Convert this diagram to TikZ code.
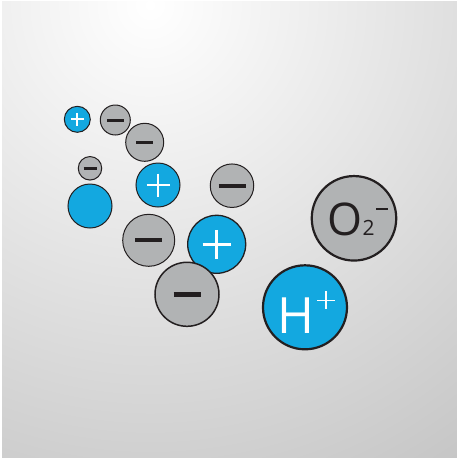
\documentclass[tikz,border=0pt]{standalone}
\usepackage{fontspec}
\setmainfont{Open Sans}
\usetikzlibrary{calc}
\definecolor{ionblue}{HTML}{13A8E0}
\definecolor{iongrey}{HTML}{B1B3B4}
\definecolor{ink}{HTML}{231F20}
\definecolor{bgdark}{HTML}{B4B4B4}
\begin{document}
\begin{tikzpicture}[x=1pt,y=-1pt,
    ion/.style={draw=ink, circle, inner sep=0pt, line width=1pt},
    cation/.style={ion, fill=ionblue},
    anion/.style={ion, fill=iongrey},
    bar/.style={draw=ink},
    cross/.style={draw=white}]
      \useasboundingbox (0,0) rectangle (457,459);
      \fill[white] (0,0) rectangle (457,459);
      \begin{scope}
        \clip (2,1) rectangle (457,457);
        \shade[inner color=white, outer color=bgdark] (150,5) circle (720);
      \end{scope}
      % small ions, top left
      \node (p1) at (77.3,119.3) [cation, minimum size=26] {};
      \node (m1) at (115.3,120) [anion, minimum size=30] {};
      \node (m2) at (144.7,142.3) [anion, minimum size=38] {};
      \node (m3) at (90,168.3) [anion, minimum size=23.5] {};
      \node (b1) at (90,206) [cation, minimum size=44] {};
      \node (p2) at (158,185) [cation, minimum size=44] {};
      \node (m4) at (232,185.7) [anion, minimum size=43.5] {};
      \node (m5) at (148.7,240.3) [anion, minimum size=52] {};
      \node (p3) at (216.7,244.3) [cation, minimum size=58, line width=1.3pt] {};
      \node (m6) at (187,294.3) [anion, minimum size=64, line width=1.5pt] {};
      % big ions
      \node (ox) at (354,218.3) [anion, minimum size=84.5, line width=2.2pt] {};
      \node (hy) at (305,307.3) [cation, minimum size=84, line width=2.2pt] {};
      % signs
      \draw[cross, line width=1.7pt]
      ($(p1)+(-6.5,0)$) -- ($(p1)+(6.5,0)$) ($(p1)+(0,-6.5)$) -- ($(p1)+(0,6.5)$);
      \draw[cross, line width=2.2pt]
      ($(p2)+(-11.5,0)$) -- ($(p2)+(11.5,0)$) ($(p2)+(0,-11.5)$) -- ($(p2)+(0,11.5)$);
      \draw[cross, line width=2.8pt]
      ($(p3)+(-14,0)$) -- ($(p3)+(14,0)$) ($(p3)+(0,-14.5)$) -- ($(p3)+(0,14.5)$);
      \draw[bar, line width=3pt] ($(m1)+(-8.3,0)$) -- ($(m1)+(8.3,0)$);
      \draw[bar, line width=3pt] ($(m2)+(-8.3,0)$) -- ($(m2)+(8.3,0)$);
      \draw[bar, line width=2.7pt] ($(m3)+(-6.5,0)$) -- ($(m3)+(6.5,0)$);
      \draw[bar, line width=4.2pt] ($(m4)+(-13.5,0)$) -- ($(m4)+(13.5,0)$);
      \draw[bar, line width=4.2pt] ($(m5)+(-13.5,0)$) -- ($(m5)+(13.5,0)$);
      \draw[bar, line width=4.5pt] ($(m6)+(-13.5,0)$) -- ($(m6)+(13.5,0)$);
      % labels
      \node (oxt) at ($(ox)+(-3,1)$) [text=ink, font=\fontsize{45}{45}\selectfont, inner sep=0pt]
        {O\raisebox{-0.5pt}{\fontsize{21}{21}\selectfont 2}};
      \draw[bar, line width=2pt] ($(ox)+(22,-9.3)$) -- ($(ox)+(34,-9.3)$);
      \node (hyt) at ($(hy)+(-9,8)$) [text=white, font=\fontsize{50}{50}\selectfont, inner sep=0pt] {H};
      \draw[cross, line width=1.5pt]
      ($(hy)+(12,-7)$) -- ($(hy)+(30,-7)$) ($(hy)+(21,-16)$) -- ($(hy)+(21,2)$);
\end{tikzpicture}
\end{document}
